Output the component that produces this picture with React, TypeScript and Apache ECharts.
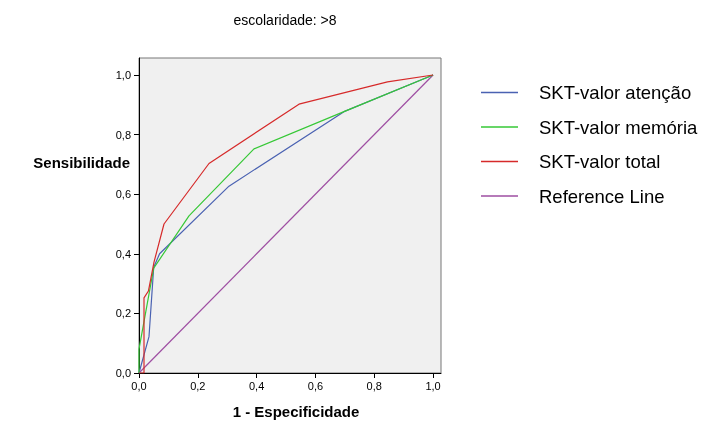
import React, { useEffect, useRef } from "react";
import * as echarts from "echarts";

const seriesNames = ["SKT-valor atenção", "SKT-valor memória", "SKT-valor total", "Reference Line"];
const atencaoX = [0, 0.034, 0.05, 0.07, 0.306, 0.697, 1];
const atencaoY = [0, 0.122, 0.355, 0.4, 0.627, 0.877, 1];
const memoriaX = [0, 0, 0.05, 0.17, 0.391, 0.697, 1];
const memoriaY = [0, 0.08, 0.352, 0.527, 0.752, 0.877, 1];
const totalX = [0, 0.017, 0.017, 0.032, 0.051, 0.085, 0.238, 0.544, 0.845, 1];
const totalY = [0, 0, 0.252, 0.275, 0.372, 0.5, 0.703, 0.902, 0.977, 1];
const refX = [0, 1];
const refY = [0, 1];
const tickValues = [0, 0.2, 0.4, 0.6, 0.8, 1.0];
const colors = ["#4a62b2", "#36c836", "#d62a2a", "#9e4ea2"];

const pairs = (xs: number[], ys: number[]) => xs.map((x, i) => [x, ys[i]]);
const fmt = (v: number) => v.toFixed(1).replace(".", ",");

export default function App() {
  const ref = useRef<HTMLDivElement>(null);
  useEffect(() => {
    if (!ref.current) return;
    const chart = echarts.init(ref.current, null, { renderer: "svg" });
    const font = "Liberation Sans, Arial, sans-serif";
    const axisCommon = {
      type: "value" as const,
      min: 0,
      splitLine: { show: false },
      axisLine: { show: true, lineStyle: { color: "#000", width: 1 } },
      axisTick: { show: true, length: 5, customValues: tickValues, lineStyle: { color: "#000" } },
      axisLabel: {
        customValues: tickValues,
        formatter: (v: number) => fmt(v),
        fontSize: 11,
        fontFamily: font,
        color: "#000",
      },
    };
    const datasets = [
      pairs(atencaoX, atencaoY),
      pairs(memoriaX, memoriaY),
      pairs(totalX, totalY),
      pairs(refX, refY),
    ];
    chart.setOption({
      animation: false,
      grid: {
        left: 139,
        top: 58,
        width: 302,
        height: 315,
        show: true,
        backgroundColor: "#f0f0f0",
        borderColor: "#777",
        borderWidth: 1,
      },
      xAxis: { ...axisCommon, max: 1.027, axisLabel: { ...axisCommon.axisLabel, margin: 7 } },
      yAxis: { ...axisCommon, max: 1.057, axisLabel: { ...axisCommon.axisLabel, margin: 8 } },
      legend: {
        orient: "vertical",
        left: 476,
        top: 78,
        icon: "rect",
        itemWidth: 37,
        itemHeight: 1.5,
        itemGap: 15.5,
        data: seriesNames,
        formatter: (name: string) => `{t|${name}}`,
        textStyle: {
          fontFamily: font,
          color: "#000",
          rich: { t: { fontSize: 18.5, fontFamily: font, color: "#000", padding: [0, 0, 0, 16], lineHeight: 21 } },
        },
      },
      graphic: [
        {
          type: "text",
          style: { text: "escolaridade: >8", x: 285, y: 20, fontSize: 14, fontFamily: font, fill: "#000", align: "center", verticalAlign: "middle" },
        },
        {
          type: "text",
          style: { text: "Sensibilidade", x: 130, y: 162, fontSize: 15, fontWeight: "bold", fontFamily: font, fill: "#000", align: "right", verticalAlign: "middle" },
        },
        {
          type: "text",
          style: { text: "1 - Especificidade", x: 296, y: 411, fontSize: 15, fontWeight: "bold", fontFamily: font, fill: "#000", align: "center", verticalAlign: "middle" },
        },
      ],
      series: seriesNames.map((name, i) => ({
        name,
        type: "line",
        data: datasets[i],
        symbol: "none",
        color: colors[i],
        itemStyle: { color: colors[i] },
        lineStyle: { color: colors[i], width: 1.2 },
        z: i === 3 ? 1 : 2 + i,
      })),
    });
    return () => chart.dispose();
  }, []);
  return <div ref={ref} style={{ position: "fixed", left: 0, top: 0, width: 702, height: 423 }} />;
}
